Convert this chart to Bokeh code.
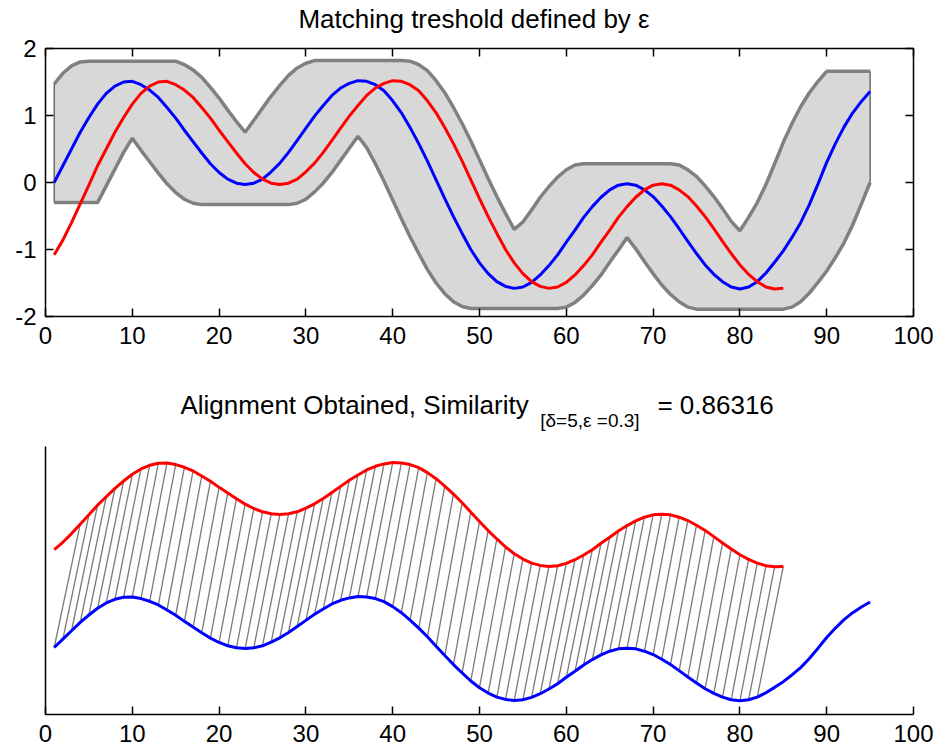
import numpy as np
from bokeh.plotting import figure
from bokeh.layouts import column
from bokeh.models import LinearAxis, FixedTicker
from bokeh.core.properties import value
from bokeh.embed import file_html
from bokeh.resources import INLINE

# ---------------- data ----------------
blue_x = list(range(1, 96))
blue_y = [0.00, 0.25, 0.50, 0.75, 0.97, 1.17, 1.33, 1.44, 1.50, 1.51,
          1.46, 1.38, 1.27, 1.12, 0.96, 0.78, 0.61, 0.44, 0.28, 0.15,
          0.05, -0.01, -0.03, -0.01, 0.05, 0.16, 0.29, 0.45, 0.63, 0.81,
          0.99, 1.15, 1.30, 1.41, 1.48, 1.52, 1.51, 1.46, 1.37, 1.22,
          1.04, 0.82, 0.58, 0.32, 0.04, -0.24, -0.51, -0.76, -1.00, -1.20,
          -1.36, -1.48, -1.55, -1.58, -1.56, -1.49, -1.38, -1.24, -1.08, -0.89,
          -0.71, -0.52, -0.36, -0.22, -0.11, -0.04, -0.02, -0.04, -0.11, -0.21,
          -0.35, -0.51, -0.69, -0.88, -1.06, -1.23, -1.37, -1.48, -1.56, -1.59,
          -1.56, -1.48, -1.35, -1.19, -1.02, -0.82, -0.60, -0.33, -0.02, 0.30,
          0.58, 0.83, 1.04, 1.21, 1.36]

red_x = list(range(1, 86))
red_y = [-1.08, -0.86, -0.60, -0.32, -0.04, 0.25, 0.50, 0.75, 0.97, 1.17,
         1.33, 1.44, 1.50, 1.51, 1.46, 1.38, 1.27, 1.12, 0.96, 0.78,
         0.61, 0.44, 0.28, 0.15, 0.05, -0.01, -0.03, -0.01, 0.05, 0.16,
         0.29, 0.45, 0.63, 0.81, 0.99, 1.15, 1.30, 1.41, 1.48, 1.52,
         1.51, 1.46, 1.37, 1.22, 1.04, 0.82, 0.58, 0.32, 0.04, -0.24,
         -0.51, -0.76, -1.00, -1.20, -1.36, -1.48, -1.55, -1.58, -1.56, -1.49,
         -1.38, -1.24, -1.08, -0.89, -0.71, -0.52, -0.36, -0.22, -0.11, -0.04,
         -0.02, -0.04, -0.11, -0.21, -0.35, -0.51, -0.69, -0.88, -1.06, -1.23,
         -1.37, -1.48, -1.56, -1.59, -1.58]

x_ticks = [0, 10, 20, 30, 40, 50, 60, 70, 80, 90, 100]
y_ticks = [-2, -1, 0, 1, 2]
y_tick_labels = ["-2", "-1", "0", "1", "2"]

delta = 5          # time window
epsilon = 0.3      # matching threshold
similarity = "0.86316"
red_offset = 4     # vertical offset of red series in alignment panel
lag = 3            # index lag of the drawn alignment links

title_top = "Matching treshold defined by \u03b5"
title_bot_main = "Alignment Obtained, Similarity"
title_bot_sub = "[\u03b4=5,\u03b5 =0.3]"
title_bot_val = "= " + similarity

FONT = "Liberation Sans"
TICK_SIZE = "24px"
TITLE_SIZE = "26px"
SUB_SIZE = "19px"
LW = 3.0

# envelope (rolling max/min of blue over +-delta, widened by epsilon)
by = np.array(blue_y)
upper = [float(by[max(0, i - delta): i + delta + 1].max() + epsilon) for i in range(len(by))]
lower = [float(by[max(0, i - delta): i + delta + 1].min() - epsilon) for i in range(len(by))]


def style_axis(ax, ticks, labels=True):
    ax.ticker = FixedTicker(ticks=ticks)
    ax.axis_line_color = "black"
    ax.axis_line_width = 1.5
    ax.major_tick_line_color = "black"
    ax.major_tick_line_width = 1.5
    ax.major_tick_in = 8
    ax.major_tick_out = 0
    ax.minor_tick_line_color = None
    ax.major_label_text_font = FONT
    ax.major_label_text_font_size = TICK_SIZE
    ax.major_label_text_color = "black"
    if not labels:
        ax.major_label_overrides = {t: "" for t in ticks}
        ax.major_label_standoff = 0


def title_fig(h):
    t = figure(width=937, height=h, x_range=(0, 100), y_range=(0, 1),
               x_axis_type=None, y_axis_type=None, title=None,
               output_backend="svg", toolbar_location=None,
               min_border_left=45, min_border_right=24,
               min_border_top=0, min_border_bottom=0,
               outline_line_color=None, background_fill_color="white",
               border_fill_color="white")
    t.xgrid.visible = False
    t.ygrid.visible = False
    return t


# ---------------- top title ----------------
T1H = 34
t1 = title_fig(T1H)
t1.text(x=[49.37], y=[1 - 18.5 / T1H], text=[title_top], text_align="center",
        text_baseline="middle", text_font=value(FONT),
        text_font_size=TITLE_SIZE, text_color="black")

# ---------------- top panel ----------------
p1 = figure(width=937, height=376 - T1H, x_range=(0, 100), y_range=(-2, 2),
            title=None, output_backend="svg", toolbar_location=None,
            min_border_left=45, min_border_right=24,
            min_border_top=48 - T1H, min_border_bottom=60,
            outline_line_color=None, background_fill_color="white",
            border_fill_color="white")
p1.xgrid.visible = False
p1.ygrid.visible = False
style_axis(p1.xaxis[0], x_ticks)
p1.xaxis[0].major_label_standoff = 10
style_axis(p1.yaxis[0], y_ticks)
p1.yaxis[0].major_label_standoff = 9
p1.yaxis[0].major_label_overrides = dict(zip(y_ticks, y_tick_labels))
top_ax = LinearAxis()
style_axis(top_ax, x_ticks, labels=False)
right_ax = LinearAxis()
style_axis(right_ax, y_ticks, labels=False)
p1.add_layout(top_ax, "above")
p1.add_layout(right_ax, "right")

env_x = blue_x + blue_x[::-1]
env_y = upper + lower[::-1]
p1.patch(env_x, env_y, fill_color="#d8d8d8", line_color="#303030", line_width=1)
p1.line(blue_x, upper, line_color="#808080", line_width=3.5)
p1.line(blue_x, lower, line_color="#808080", line_width=3.5)
p1.line(blue_x, blue_y, line_color="#0000ff", line_width=LW)
p1.line(red_x, red_y, line_color="#ff0000", line_width=LW)

# ---------------- bottom title ----------------
T2H = 60
t2 = title_fig(T2H)
t2.text(x=[15.55], y=[1 - 28.3 / T2H], text=[title_bot_main], text_align="left",
        text_baseline="middle", text_font=value(FONT),
        text_font_size=TITLE_SIZE, text_color="black")
t2.text(x=[57.0], y=[1 - 43.5 / T2H], text=[title_bot_sub], text_align="left",
        text_baseline="middle", text_font=value(FONT),
        text_font_size=SUB_SIZE, text_color="black")
t2.text(x=[70.5], y=[1 - 28.3 / T2H], text=[title_bot_val], text_align="left",
        text_baseline="middle", text_font=value(FONT),
        text_font_size=TITLE_SIZE, text_color="black")

# ---------------- bottom panel ----------------
p2 = figure(width=937, height=316, x_range=(0, 100), y_range=(-2, 6),
            title=None, output_backend="svg", toolbar_location=None,
            min_border_left=45, min_border_right=24,
            min_border_top=10, min_border_bottom=38,
            outline_line_color=None, background_fill_color="white",
            border_fill_color="white")
p2.xgrid.visible = False
p2.ygrid.visible = False
style_axis(p2.xaxis[0], x_ticks)
p2.xaxis[0].major_label_standoff = 10
p2.yaxis[0].ticker = FixedTicker(ticks=[])
p2.yaxis[0].axis_line_color = "black"
p2.yaxis[0].axis_line_width = 1.5
p2.yaxis[0].minor_tick_line_color = None
p2.yaxis[0].major_tick_line_color = None

red_up = [v + red_offset for v in red_y]
seg_x0 = [red_x[i] for i in range(lag, len(red_x))]
seg_y0 = [red_up[i] for i in range(lag, len(red_x))]
seg_x1 = [blue_x[i - lag] for i in range(lag, len(red_x))]
seg_y1 = [blue_y[i - lag] for i in range(lag, len(red_x))]
p2.segment(seg_x0, seg_y0, seg_x1, seg_y1, line_color="#7a7a7a", line_width=1.3)
p2.line(red_x, red_up, line_color="#ff0000", line_width=LW)
p2.line(blue_x, blue_y, line_color="#0000ff", line_width=LW)

layout = column(t1, p1, t2, p2, spacing=0)
open("out.html", "w").write(file_html(layout, INLINE))
